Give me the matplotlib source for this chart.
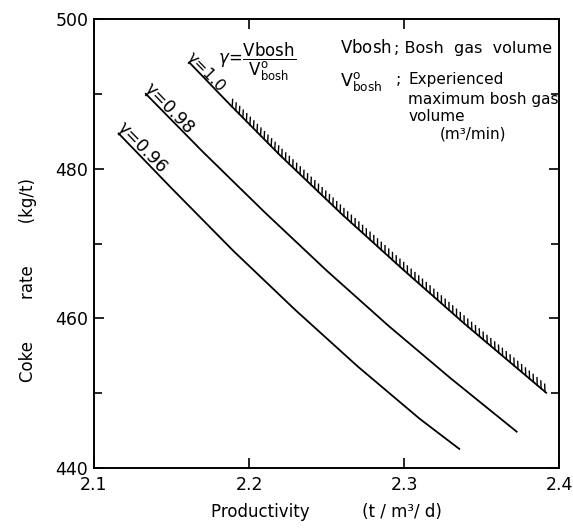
import matplotlib
matplotlib.use("Agg")
import matplotlib.pyplot as plt
import matplotlib.patheffects as pe

# Data
x_g100 = [2.161, 2.188, 2.22, 2.26, 2.30, 2.34, 2.392]
y_g100 = [494.3, 488.5, 481.8, 473.9, 466.4, 459.1, 450.0]
x_g098 = [2.133, 2.17, 2.21, 2.25, 2.29, 2.33, 2.373]
y_g098 = [490.1, 482.3, 474.2, 466.4, 459.0, 452.0, 444.8]
x_g096 = [2.1155, 2.15, 2.19, 2.23, 2.27, 2.31, 2.336]
y_g096 = [484.8, 477.4, 469.0, 461.1, 453.6, 446.6, 442.5]
hatch_start = 2.188

curve_labels = ["γ=1.0", "γ=0.98", "γ=0.96"]
xticks = [2.1, 2.2, 2.3, 2.4]
xtick_labels = ["2.1", "2.2", "2.3", "2.4"]
yticks = [440, 460, 480, 500]
ytick_labels = ["440", "460", "480", "500"]
note_lines = ["Experienced", "maximum bosh gas", "volume"]

plt.rcParams['font.family'] = ['DejaVu Sans']
plt.rcParams['mathtext.fontset'] = 'dejavusans'

fig = plt.figure(figsize=(5.73, 5.29), dpi=100)
ax = fig.add_axes([0.164, 0.115, 0.812, 0.849])

lw = 1.3
curves = [(x_g100, y_g100), (x_g098, y_g098), (x_g096, y_g096)]
for xs, ys in curves:
    ax.plot(xs, ys, color='black', lw=lw, solid_capstyle='butt')

# hatched portion of gamma = 1.0
xh = [x for x in x_g100 if x >= hatch_start]
yh = [y for x, y in zip(x_g100, y_g100) if x >= hatch_start]
ax.plot(xh, yh, color='none', lw=lw,
        path_effects=[pe.TickedStroke(spacing=3.6, angle=132, length=1.5,
                                      linewidth=1.0, foreground='black')])

ax.set_xlim(2.1, 2.4)
ax.set_ylim(440, 500)
ax.set_xticks(xticks)
ax.set_xticklabels(xtick_labels)
ax.set_yticks(yticks)
ax.set_yticklabels(ytick_labels)
ax.set_yticks([450, 470, 490], minor=True)
ax.tick_params(axis='both', which='both', direction='in', top=True, right=True,
               labelsize=12.5, width=1.2)
ax.tick_params(which='major', length=7)
ax.tick_params(which='minor', length=6)
ax.tick_params(axis='x', pad=6)
ax.tick_params(axis='y', pad=4)
for s in ax.spines.values():
    s.set_linewidth(1.4)

ax.set_xlabel("Productivity          (t / m³/ d)", fontsize=12, labelpad=6)
ax.set_ylabel("Coke        rate        (kg/t)", fontsize=12)
ax.yaxis.set_label_coords(-0.122, 0.42)

# curve labels along the lines
rot = -46
for (xs, ys), lab, fs in zip(curves, curve_labels, [11.5, 12.5, 12.5]):
    ax.text(xs[0] - 0.003, ys[0] + 0.2, lab, rotation=rot, rotation_mode='anchor',
            ha='left', va='bottom', fontsize=fs)

ax.text(2.180, 494.3, r"$\gamma\!=\!\dfrac{\mathrm{Vbosh}}{\mathrm{V^{o}_{bosh}}}$",
        ha='left', va='center', fontsize=12)

ax.text(2.2587, 496.1, r"$\mathrm{Vbosh}$", ha='left', va='center', fontsize=12)
ax.text(2.2935, 496.1, "; Bosh  gas  volume", ha='left', va='center', fontsize=11.5)
ax.text(2.2587, 491.6, r"$\mathrm{V^{o}_{bosh}}$", ha='left', va='center', fontsize=12.5)
ax.text(2.2945, 491.9, ";", ha='left', va='center', fontsize=11.5)
for line, yv in zip(note_lines, [491.9, 489.3, 487.0]):
    ax.text(2.3026, yv, line, ha='left', va='center', fontsize=11)
ax.text(2.323, 484.7, "(m³/min)", ha='left', va='center', fontsize=11)

fig.savefig("out.png", dpi=100)
